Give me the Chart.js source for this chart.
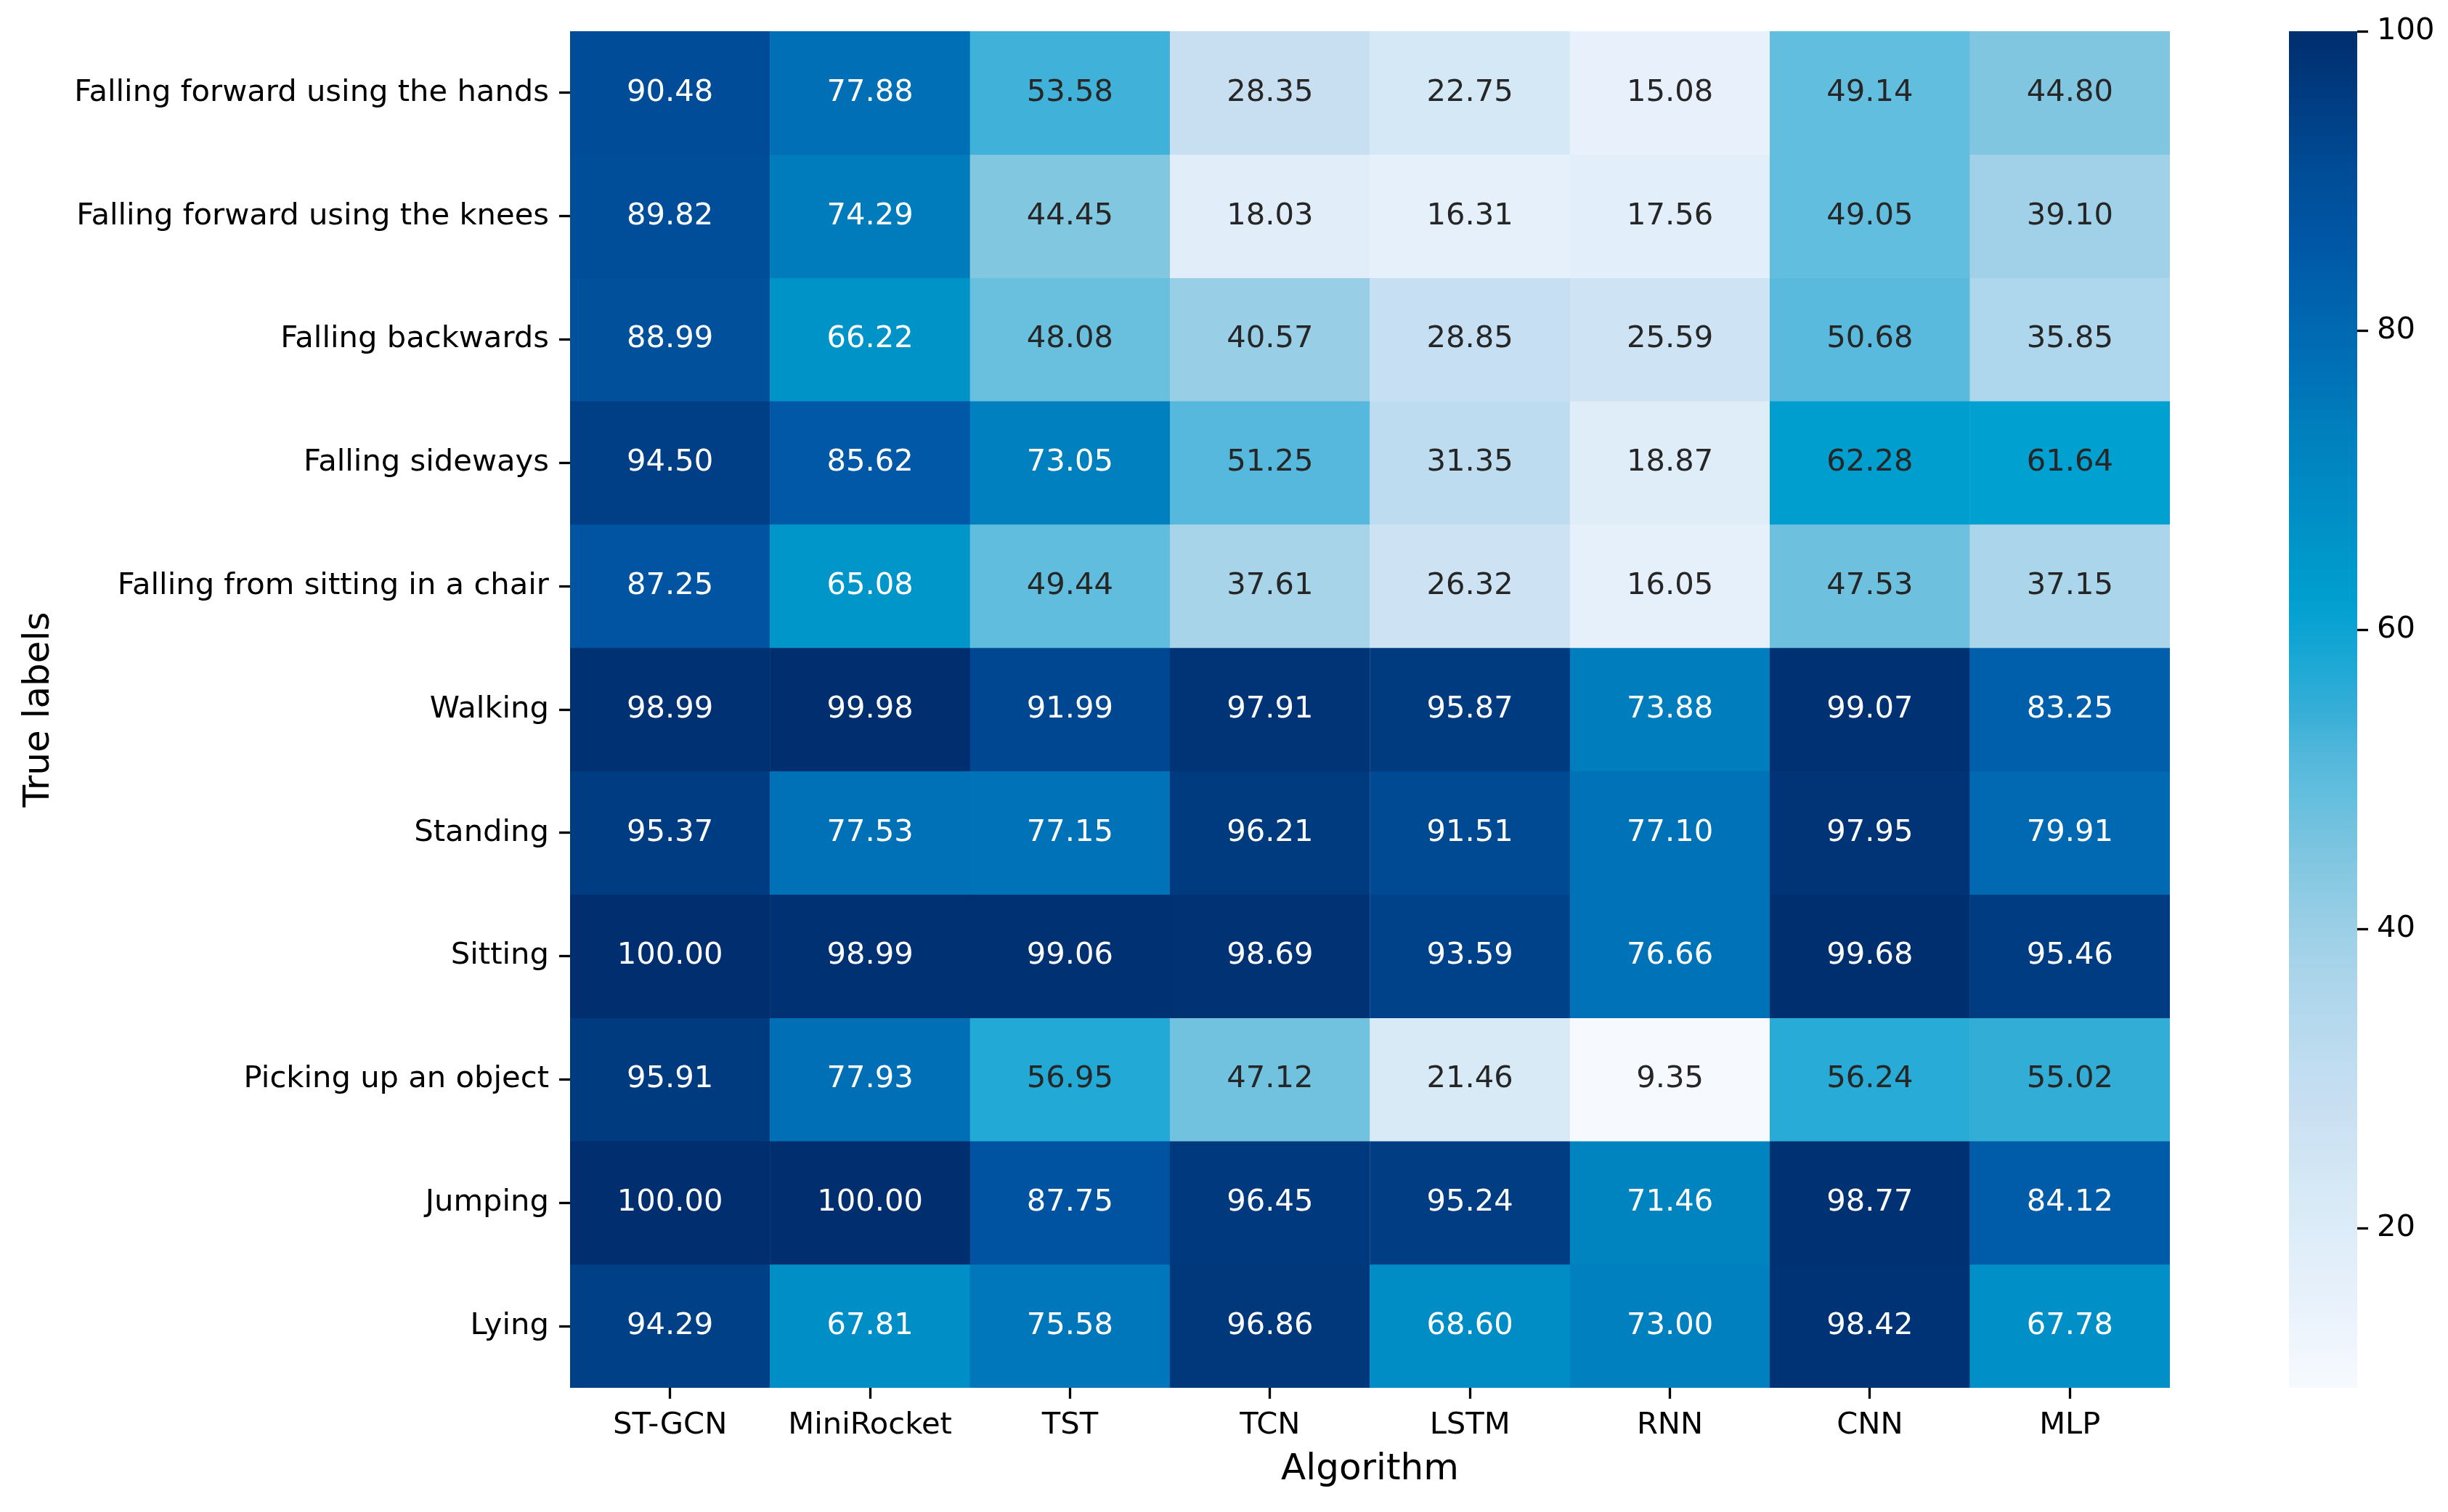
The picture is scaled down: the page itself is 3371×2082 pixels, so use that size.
<!DOCTYPE html>
<html>
<head>
<meta charset="utf-8">
<script src="https://cdn.jsdelivr.net/npm/chart.js@4"></script>
<style>
  html, body { margin: 0; padding: 0; background: #fff; }
  #wrap { position: relative; width: 3371px; height: 2082px; }
  .box { position: absolute; top: 0; height: 2082px; }
</style>
</head>
<body>
<div id="wrap">
  <div class="box" style="left:0;width:3020px;"><canvas id="heat"></canvas></div>
  <div class="box" style="left:3100px;width:271px;"><canvas id="cbar"></canvas></div>
</div>
<script>
// ─── data ───────────────────────────────────────────
const algorithms = ['ST-GCN', 'MiniRocket', 'TST', 'TCN', 'LSTM', 'RNN', 'CNN', 'MLP'];
const activities = [
  'Falling forward using the hands',
  'Falling forward using the knees',
  'Falling backwards',
  'Falling sideways',
  'Falling from sitting in a chair',
  'Walking',
  'Standing',
  'Sitting',
  'Picking up an object',
  'Jumping',
  'Lying',
];
// one array per algorithm, values in activity order
const stgcn      = [90.48, 89.82, 88.99, 94.50, 87.25, 98.99, 95.37, 100.00, 95.91, 100.00, 94.29];
const miniRocket = [77.88, 74.29, 66.22, 85.62, 65.08, 99.98, 77.53, 98.99, 77.93, 100.00, 67.81];
const tst        = [53.58, 44.45, 48.08, 73.05, 49.44, 91.99, 77.15, 99.06, 56.95, 87.75, 75.58];
const tcn        = [28.35, 18.03, 40.57, 51.25, 37.61, 97.91, 96.21, 98.69, 47.12, 96.45, 96.86];
const lstm       = [22.75, 16.31, 28.85, 31.35, 26.32, 95.87, 91.51, 93.59, 21.46, 95.24, 68.60];
const rnn        = [15.08, 17.56, 25.59, 18.87, 16.05, 73.88, 77.10, 76.66, 9.35, 71.46, 73.00];
const cnn        = [49.14, 49.05, 50.68, 62.28, 47.53, 99.07, 97.95, 99.68, 56.24, 98.77, 98.42];
const mlp        = [44.80, 39.10, 35.85, 61.64, 37.15, 83.25, 79.91, 95.46, 55.02, 84.12, 67.78];
const columns = [stgcn, miniRocket, tst, tcn, lstm, rnn, cnn, mlp];
const colorbarTicks = [20, 40, 60, 80, 100];

const vmin = Math.min(...columns.flat());
const vmax = 100;

// ─── colour map (white → cyan → navy) ───────────────
const cmapStops = [
  [9.35, [246, 250, 254]], [15, [232, 241, 251]], [18.5, [224, 238, 249]],
  [22.75, [213, 232, 245]], [28.35, [200, 223, 242]], [31.35, [190, 220, 240]],
  [37.6, [168, 212, 234]], [44.8, [128, 198, 224]], [49.1, [98, 190, 222]],
  [51.25, [86, 184, 220]], [55, [50, 173, 214]], [57, [34, 169, 214]],
  [61.64, [0, 160, 208]], [65.08, [0, 150, 202]], [73.05, [0, 128, 190]],
  [77.9, [0, 111, 182]], [85.6, [0, 88, 166]], [90.5, [0, 76, 152]],
  [94.5, [0, 63, 134]], [100, [0, 46, 110]],
];
function cmap(v) {
  if (v <= cmapStops[0][0]) return `rgb(${cmapStops[0][1].join(',')})`;
  for (let i = 1; i < cmapStops.length; i++) {
    const [v1, c1] = cmapStops[i];
    const [v0, c0] = cmapStops[i - 1];
    if (v <= v1) {
      const t = (v - v0) / (v1 - v0);
      const c = c0.map((x, k) => Math.round(x + (c1[k] - x) * t));
      return `rgb(${c.join(',')})`;
    }
  }
  return `rgb(${cmapStops[cmapStops.length - 1][1].join(',')})`;
}

const FONT = "'DejaVu Sans', sans-serif";
const FS = 41.7;
const nRows = activities.length;

// ─── heatmap: one floating-bar dataset per activity row ─────
const datasets = activities.map((act, r) => {
  const vals = columns.map(col => col[r]);
  const colors = vals.map(cmap);
  return {
    label: act,
    values: vals,
    data: algorithms.map(() => [nRows - 1 - r, nRows - r]),
    backgroundColor: colors,
    borderColor: colors,
    borderWidth: 1,
    borderSkipped: false,
    barPercentage: 1,
    categoryPercentage: 1,
    grouped: false,
  };
});

const annotate = {
  id: 'annotate',
  afterDatasetsDraw(chart) {
    const ctx = chart.ctx;
    ctx.save();
    ctx.font = `${FS}px ${FONT}`;
    ctx.textAlign = 'center';
    ctx.textBaseline = 'middle';
    chart.data.datasets.forEach((ds, di) => {
      chart.getDatasetMeta(di).data.forEach((bar, i) => {
        const v = ds.values[i];
        ctx.fillStyle = v > 63.5 ? '#ffffff' : '#262626';
        ctx.fillText(v.toFixed(2), bar.x, (bar.y + bar.base) / 2);
      });
    });
    ctx.restore();
  },
};

new Chart(document.getElementById('heat'), {
  type: 'bar',
  data: { labels: algorithms, datasets },
  plugins: [annotate],
  options: {
    responsive: true,
    maintainAspectRatio: false,
    animation: false,
    layout: { padding: { top: 43, right: 32, left: 0, bottom: 0 } },
    plugins: { legend: { display: false }, tooltip: { enabled: false } },
    scales: {
      x: {
        offset: true,
        border: { display: false },
        grid: { display: true, offset: false, drawOnChartArea: false, drawTicks: true, tickLength: 15, tickWidth: 3.3, tickColor: '#000' },
        ticks: { color: '#000', font: { family: FONT, size: FS }, padding: 12, maxRotation: 0, autoSkip: false },
        title: { display: true, text: 'Algorithm', color: '#000', font: { family: FONT, size: 50 }, padding: { top: 4, bottom: 28 } },
        afterFit: s => { s.height = 171; },
      },
      y: {
        min: 0,
        max: nRows,
        border: { display: false },
        grid: { display: true, drawOnChartArea: false, drawTicks: true, tickLength: 15, tickWidth: 3.3, tickColor: '#000' },
        afterBuildTicks: s => { s.ticks = activities.map((_, i) => ({ value: nRows - 0.5 - i })); },
        ticks: {
          color: '#000',
          font: { family: FONT, size: FS },
          padding: 14,
          autoSkip: false,
          callback: v => activities[Math.round(nRows - 0.5 - v)],
        },
        title: { display: true, text: 'True labels', color: '#000', font: { family: FONT, size: 50 }, padding: { top: 24, bottom: 0 } },
        afterFit: s => { s.width = 785; },
      },
    },
  },
});

// ─── colour bar ─────────────────────────────────────
function barGradient(c) {
  const chart = c.chart;
  const area = chart.chartArea;
  if (!area) return cmap(vmax);
  const y = chart.scales.y;
  const g = chart.ctx.createLinearGradient(0, y.getPixelForValue(vmin), 0, y.getPixelForValue(vmax));
  for (let k = 0; k <= 60; k++) {
    const v = vmin + (vmax - vmin) * k / 60;
    g.addColorStop(k / 60, cmap(v));
  }
  return g;
}

new Chart(document.getElementById('cbar'), {
  type: 'bar',
  data: {
    labels: [''],
    datasets: [{
      data: [[vmin, vmax]],
      backgroundColor: barGradient,
      borderWidth: 0,
      borderSkipped: false,
      barPercentage: 1,
      categoryPercentage: 1,
    }],
  },
  options: {
    responsive: true,
    maintainAspectRatio: false,
    animation: false,
    layout: { padding: { top: 43, bottom: 171, left: 52, right: 0 } },
    plugins: { legend: { display: false }, tooltip: { enabled: false } },
    scales: {
      x: { display: false },
      y: {
        position: 'right',
        min: vmin,
        max: vmax,
        border: { display: false },
        grid: { display: true, drawOnChartArea: false, drawTicks: true, tickLength: 15, tickWidth: 3.3, tickColor: '#000' },
        afterBuildTicks: s => { s.ticks = colorbarTicks.map(v => ({ value: v })); },
        ticks: { color: '#000', font: { family: FONT, size: FS }, padding: 12, autoSkip: false },
        afterFit: s => { s.width = 125; },
      },
    },
  },
});
</script>
</body>
</html>
